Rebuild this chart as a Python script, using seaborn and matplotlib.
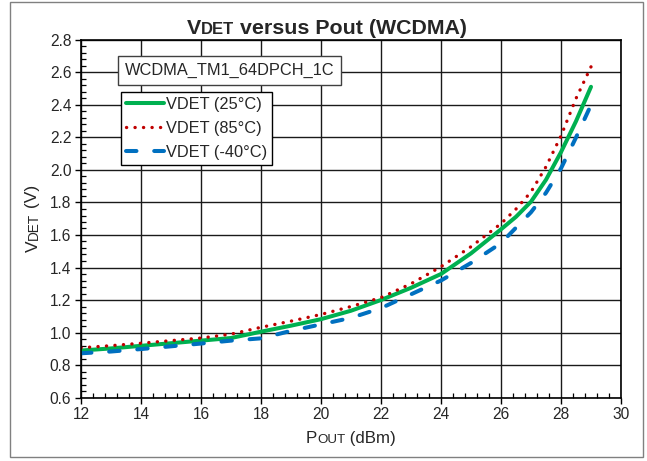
import matplotlib
matplotlib.use("Agg")
import matplotlib.pyplot as plt
from matplotlib.patches import Rectangle
from matplotlib.transforms import IdentityTransform
from matplotlib.ticker import MultipleLocator
import numpy as np
import pandas as pd
import seaborn as sns

# Output power sweep (dBm) and detector voltage (V) at three temperatures
pout = [12, 13, 14, 15, 16, 17, 18, 19, 20, 21, 22, 23, 24, 25, 26, 26.5, 27, 27.5, 28, 28.5, 29]
vdet_25c = [0.889, 0.902, 0.918, 0.934, 0.950, 0.966, 1.005, 1.042, 1.082, 1.134,
            1.200, 1.275, 1.360, 1.487, 1.635, 1.712, 1.805, 1.940, 2.110, 2.300, 2.512]
vdet_85c = [0.906, 0.919, 0.934, 0.950, 0.966, 0.990, 1.032, 1.070, 1.111, 1.160,
            1.215, 1.300, 1.405, 1.528, 1.670, 1.760, 1.865, 2.020, 2.210, 2.440, 2.635]
vdet_m40c = [0.872, 0.883, 0.898, 0.915, 0.932, 0.950, 0.964, 1.010, 1.050, 1.090,
             1.150, 1.235, 1.320, 1.428, 1.550, 1.645, 1.740, 1.860, 2.010, 2.200, 2.400]

series_labels = ["VDET (25°C)", "VDET (85°C)", "VDET (-40°C)"]
x_ticks = [12, 14, 16, 18, 20, 22, 24, 26, 28, 30]
y_ticks = [0.6, 0.8, 1.0, 1.2, 1.4, 1.6, 1.8, 2.0, 2.2, 2.4, 2.6, 2.8]

sns.set_style("white")
plt.rcParams["font.family"] = ["Liberation Sans", "DejaVu Sans"]

W, H, DPI = 647, 461, 100
fig = plt.figure(figsize=(W / DPI, H / DPI), dpi=DPI)
ax = fig.add_axes([81 / W, 1 - 397.5 / H, 540 / W, 357.5 / H])

df = pd.DataFrame({"pout": pout, "v25": vdet_25c, "v85": vdet_85c, "vm40": vdet_m40c})

sns.lineplot(data=df, x="pout", y="v25", ax=ax, color="#00B050", lw=2.9,
             solid_capstyle="round", solid_joinstyle="round",
             label=series_labels[0], errorbar=None)
sns.lineplot(data=df, x="pout", y="v85", ax=ax, color="#C00000", lw=2.4,
             linestyle=(0, (0.05, 2.5)), dash_capstyle="round",
             label=series_labels[1], errorbar=None)
sns.lineplot(data=df, x="pout", y="vm40", ax=ax, color="#0070C0", lw=2.9,
             linestyle=(0, (2.6, 4.4)), dash_capstyle="round",
             label=series_labels[2], errorbar=None)

ax.set_xlim(12, 30)
ax.set_ylim(0.6, 2.8)
ax.set_xticks(x_ticks)
ax.set_yticks(y_ticks)
ax.set_xticklabels([str(v) for v in x_ticks])
ax.set_yticklabels([f"{v:.1f}" for v in y_ticks])
ax.xaxis.set_minor_locator(MultipleLocator(0.4))
ax.yaxis.set_minor_locator(MultipleLocator(0.04))
ax.grid(True, which="major", color="#1a1a1a", lw=1.0)
ax.set_axisbelow(True)
for s in ax.spines.values():
    s.set_color("black")
    s.set_linewidth(1.2)
ax.tick_params(which="major", direction="out", length=4, width=1.0, color="black",
               labelsize=11.2, pad=3, bottom=True, left=True)
ax.tick_params(which="minor", direction="in", length=3.5, width=0.9, color="black",
               bottom=True, left=True)
ax.set_xlabel("")
ax.set_ylabel("")

leg = ax.legend(loc="upper left", bbox_to_anchor=(121 / W, 1 - 92 / H),
                bbox_transform=fig.transFigure, fontsize=11.8, frameon=True,
                fancybox=False, shadow=False, borderaxespad=0, borderpad=0.3,
                handlelength=2.3, handletextpad=0.15, labelspacing=0.55)
leg.get_frame().set_edgecolor("#000000")
leg.get_frame().set_linewidth(1.0)
leg.get_frame().set_alpha(1)

# Test-condition note
fig.text(229.5 / W, 1 - 70.5 / H, "WCDMA_TM1_64DPCH_1C", fontsize=11.8,
         ha="center", va="center",
         bbox=dict(boxstyle="square,pad=0.42", fc="white", ec="#404040", lw=1.0))

# Figure border
fig.patches.append(Rectangle((10, 4), 633, 455, transform=IdentityTransform(),
                             fill=False, ec="#808080", lw=1.0, figure=fig))

renderer = fig.canvas.get_renderer()


def rich_text(x, y, pieces, rotation=0):
    """Draw a run of text pieces sharing one baseline, centred on (x, y) in pixels
    (y measured from the top of the figure)."""
    arts = []
    for s, size, weight in pieces:
        t = fig.text(0, 0, s, fontsize=size, fontweight=weight, ha="left",
                     va="baseline", rotation=rotation, rotation_mode="anchor",
                     transform=IdentityTransform())
        arts.append(t)
    sizes = []
    for t in arts:
        bb = t.get_window_extent(renderer)
        sizes.append(bb.width if rotation == 0 else bb.height)
    total = sum(sizes)
    pos = -total / 2
    for t, w in zip(arts, sizes):
        if rotation == 0:
            t.set_position((x + pos, H - y))
        else:
            t.set_position((x, H - y + pos))
        pos += w


rich_text(327, 34, [("V", 15.4, "bold"), ("DET", 12, "bold"),
                    (" versus Pout (WCDMA)", 15.4, "bold")])
rich_text(351, 443, [("P", 12.2, "normal"), ("OUT", 9.6, "normal"),
                     (" (dBm)", 12.2, "normal")])
rich_text(37.5, 218.5, [("V", 12.5, "normal"), ("DET", 9.8, "normal"),
                        (" (V)", 12.5, "normal")], rotation=90)

fig.savefig("out.png", dpi=DPI)
